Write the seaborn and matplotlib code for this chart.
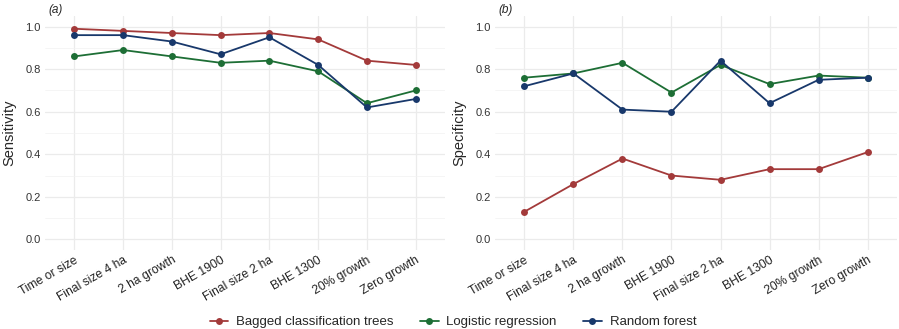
import numpy as np
import pandas as pd
import seaborn as sns
import matplotlib.pyplot as plt
from matplotlib.ticker import MultipleLocator

sns.set_theme(style="whitegrid")
plt.rcParams['font.family'] = ['Liberation Sans', 'DejaVu Sans']

scenarios = ["Time or size", "Final size 4 ha", "2 ha growth", "BHE 1900",
             "Final size 2 ha", "BHE 1300", "20% growth", "Zero growth"]
models = ["Bagged classification trees", "Logistic regression", "Random forest"]

# sensitivity per model
sens_bagged = [0.99, 0.98, 0.97, 0.96, 0.97, 0.94, 0.84, 0.82]
sens_logistic = [0.86, 0.89, 0.86, 0.83, 0.84, 0.79, 0.64, 0.70]
sens_rf = [0.96, 0.96, 0.93, 0.87, 0.95, 0.82, 0.62, 0.66]

# specificity per model
spec_bagged = [0.13, 0.26, 0.38, 0.30, 0.28, 0.33, 0.33, 0.41]
spec_logistic = [0.76, 0.78, 0.83, 0.69, 0.82, 0.73, 0.77, 0.76]
spec_rf = [0.72, 0.78, 0.61, 0.60, 0.84, 0.64, 0.75, 0.76]

colors = ["#a33a3a", "#1d6e35", "#18386b"]


def long_df(vals):
    rows = []
    for m, v in zip(models, vals):
        for s, y in zip(scenarios, v):
            rows.append({"scenario": s, "model": m, "value": y})
    return pd.DataFrame(rows)


df_sens = long_df([sens_bagged, sens_logistic, sens_rf])
df_spec = long_df([spec_bagged, spec_logistic, spec_rf])

W, H = 899, 329
fig = plt.figure(figsize=(W / 100, H / 100), dpi=100)
ax1 = fig.add_axes([45 / W, 1 - 250 / H, 400 / W, 234 / H])
ax2 = fig.add_axes([495 / W, 1 - 250 / H, 402 / W, 234 / H])

for ax, df, ylab, tag in [(ax1, df_sens, "Sensitivity", "(a)"),
                          (ax2, df_spec, "Specificity", "(b)")]:
    sns.lineplot(data=df, x="scenario", y="value", hue="model", palette=colors,
                 marker="o", markersize=5, markeredgewidth=0, linewidth=1.3,
                 sort=False, ax=ax, legend=(ax is ax1))
    ax.set_xlim(-0.6, 7.6)
    ax.set_ylim(-0.05, 1.05)
    ax.set_yticks(np.arange(0, 1.01, 0.2))
    ax.set_yticklabels([f"{v:.1f}" for v in np.arange(0, 1.01, 0.2)])
    ax.yaxis.set_minor_locator(MultipleLocator(0.1))
    ax.grid(True, which="major", color="#ebebeb", linewidth=0.9)
    ax.grid(True, which="minor", axis="y", color="#f2f2f2", linewidth=0.5)
    ax.set_facecolor("white")
    for sp in ax.spines.values():
        sp.set_visible(False)
    ax.tick_params(axis="both", which="both", length=0, pad=3)
    ax.tick_params(axis="y", labelsize=8, labelcolor="#333333")
    ax.tick_params(axis="x", labelsize=8.7, labelcolor="#222222")
    plt.setp(ax.get_xticklabels(), rotation=30, ha="right", rotation_mode="anchor")
    ax.set_xlabel("")
    ax.set_ylabel(ylab, fontsize=10.5)
    ax.yaxis.set_label_coords(-29 / 400, 0.5)
    ax.text(0.008, 1.0, tag, transform=ax.transAxes, fontsize=8.5,
            style="italic", va="bottom", ha="left")

handles, labels = ax1.get_legend_handles_labels()
ax1.get_legend().remove()
fig.legend(handles, labels, loc="center", bbox_to_anchor=(453 / W, 1 - 322 / H),
           ncol=3, frameon=False, fontsize=9.5, handlelength=1.4,
           columnspacing=2.0, handletextpad=0.6)

fig.savefig("out.png", dpi=100)
